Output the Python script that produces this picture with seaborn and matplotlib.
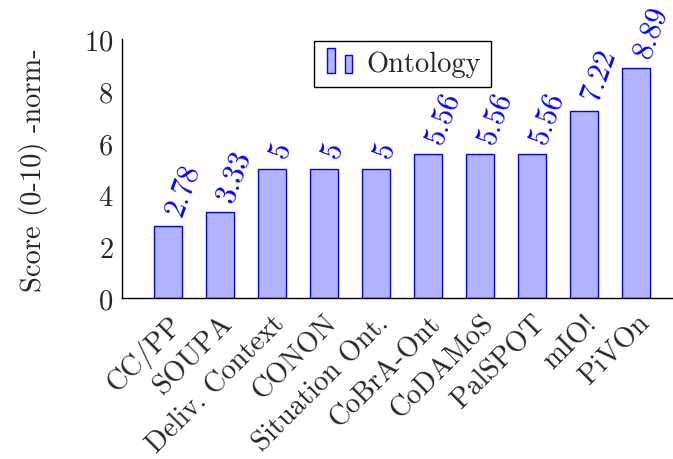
import matplotlib
matplotlib.use('Agg')
import matplotlib.pyplot as plt
import seaborn as sns
from matplotlib.legend_handler import HandlerBase
from matplotlib.patches import Rectangle

# data
ontologies = ['CC/PP', 'SOUPA', 'Deliv. Context', 'CONON', 'Situation Ont.',
              'CoBrA-Ont', 'CoDAMoS', 'PalSPOT', 'mIO!', 'PiVOn']
scores = [2.78, 3.33, 5, 5, 5, 5.56, 5.56, 5.56, 7.22, 8.89]
score_labels = ['2.78', '3.33', '5', '5', '5', '5.56', '5.56', '5.56', '7.22', '8.89']

sns.set_style('white')
plt.rcParams['font.family'] = ['cmr10', 'DejaVu Serif']
plt.rcParams['axes.formatter.use_mathtext'] = True
fs = 20.5
plt.rcParams['font.size'] = fs

fill = '#b3b3ff'
edge = '#0000ff'


class TwoBarHandler(HandlerBase):
    # pgfplots style ybar legend image
    def create_artists(self, legend, orig_handle, xdescent, ydescent,
                       width, height, fontsize, trans):
        w = width * 0.22
        r1 = Rectangle((width * 0.1 - xdescent, -ydescent - 0.1 * height), w, height * 1.25,
                       facecolor=fill, edgecolor=edge, lw=1, transform=trans)
        r2 = Rectangle((width * 0.62 - xdescent, -ydescent - 0.1 * height), w, height * 0.9,
                       facecolor=fill, edgecolor=edge, lw=1, transform=trans)
        return [r1, r2]


fig = plt.figure(figsize=(6.73, 4.6), dpi=100)
ax = fig.add_axes([0.181, 0.349, 0.819, 0.563])

sns.barplot(x=ontologies, y=scores, color=fill, saturation=1, width=0.53,
            edgecolor=edge, linewidth=1, ax=ax, label='Ontology')

# value labels above bars, rotated, anchored at their start
for bar, txt in zip(ax.containers[0], score_labels):
    ax.annotate(txt, (bar.get_x() + bar.get_width() / 2, bar.get_height()),
                xytext=(4, 9), textcoords='offset points', rotation=70,
                rotation_mode='anchor', ha='left', va='center',
                color=edge, fontsize=21.5, annotation_clip=False)

ax.set_xlim(-0.885, 9.71)
ax.set_ylim(0, 10)
ax.set_yticks([0, 2, 4, 6, 8, 10])
ax.set_ylabel('Score (0-10) -norm-', labelpad=26)
ax.set_xlabel('')

for s in ['top', 'right']:
    ax.spines[s].set_visible(False)
for s in ['left', 'bottom']:
    ax.spines[s].set_color('black')
    ax.spines[s].set_linewidth(1)

ax.tick_params(axis='y', direction='in', length=5, color='#999999', width=1, pad=6)
ax.tick_params(axis='x', direction='out', length=5, color='#999999', width=1, pad=3)
plt.setp(ax.get_xticklabels(), rotation=45, ha='right', va='top',
         rotation_mode='anchor')

handle = ax.containers[0].patches[0]
ax.legend([handle], ['Ontology'], handler_map={type(handle): TwoBarHandler()},
          loc='upper center', bbox_to_anchor=(0.509, 0.995), borderaxespad=0,
          frameon=True, fancybox=False, edgecolor='black', framealpha=1,
          handlelength=1.2, handletextpad=0.3, borderpad=0.35, fontsize=fs)
ax.get_legend().get_frame().set_linewidth(1)

fig.savefig('out.png', dpi=100)
